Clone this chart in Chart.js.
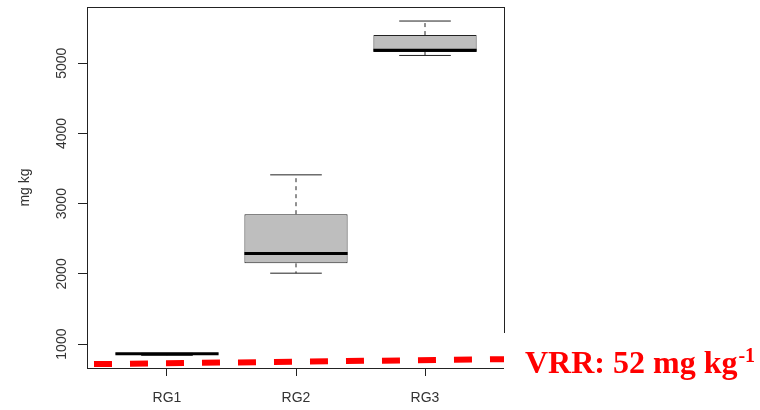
<!DOCTYPE html>
<html lang="en">
<head>
  <meta charset="UTF-8" />
  <title>mg kg por grupo RG</title>
  <script src="https://cdn.jsdelivr.net/npm/chart.js"></script>
  <style>
    html, body {
      margin: 0;
      padding: 0;
      background: #fff;
    }
    #chart-container {
      width: 760px;
      height: 410px;
    }
  </style>
</head>
<body>
  <div id="chart-container">
    <canvas id="boxChart"></canvas>
  </div>

  <script>
    // datos (mg kg)
    const grupos = ['RG1', 'RG2', 'RG3'];
    const minimo = [840, 2010, 5110];
    const q1 = [858, 2150, 5160];
    const mediana = [862, 2290, 5185];
    const q3 = [866, 2850, 5400];
    const maximo = [868, 3410, 5600];

    const yTicks = [1000, 2000, 3000, 4000, 5000];
    const yRango = [660, 5800];
    const xRango = [0.38, 3.62];

    // linea roja discontinua (valor en el extremo izquierdo y derecho)
    const vrrLinea = [714, 786];
    const vrrTexto = 'VRR: 52 mg kg';
    const vrrSup = '-1';

    const MEDIO_CAJA = 0.4;
    const MEDIO_TOPE = 0.2;
    const FUENTE = '"Liberation Sans", Arial, sans-serif';

    // arma segmentos separados por puntos nulos
    function segmentos(fn) {
      const pts = [];
      grupos.forEach((g, i) => {
        fn(i + 1, i).forEach(p => pts.push(p));
        pts.push({ x: i + 1, y: null });
      });
      return pts;
    }

    const cajas = grupos.map((g, i) => ({ x: i + 1, y: [q1[i], q3[i]] }));
    const medianas = segmentos((x, i) => [
      { x: x - MEDIO_CAJA, y: mediana[i] },
      { x: x + MEDIO_CAJA, y: mediana[i] }
    ]);
    const bigotes = segmentos((x, i) => [
      { x: x, y: q3[i] }, { x: x, y: maximo[i] }, { x: x, y: null },
      { x: x, y: q1[i] }, { x: x, y: minimo[i] }
    ]);
    const topes = segmentos((x, i) => [
      { x: x - MEDIO_TOPE, y: maximo[i] }, { x: x + MEDIO_TOPE, y: maximo[i] }, { x: x, y: null },
      { x: x - MEDIO_TOPE, y: minimo[i] }, { x: x + MEDIO_TOPE, y: minimo[i] }
    ]);

    const marcoYTextos = {
      id: 'marcoYTextos',
      afterDatasetsDraw(chart) {
        const { ctx, chartArea: a, scales: { y } } = chart;
        ctx.save();
        // marco del grafico
        ctx.strokeStyle = '#222';
        ctx.lineWidth = 1;
        ctx.strokeRect(a.left + 0.5, a.top + 0.5, a.right - a.left - 1, a.bottom - a.top);

        // etiquetas del eje y, giradas
        ctx.fillStyle = '#333';
        ctx.font = '14px ' + FUENTE;
        ctx.textAlign = 'center';
        ctx.textBaseline = 'alphabetic';
        y.ticks.forEach(t => {
          const py = y.getPixelForValue(t.value);
          ctx.save();
          ctx.translate(a.left - 21, py);
          ctx.rotate(-Math.PI / 2);
          ctx.fillText(String(t.value), 0, 0);
          ctx.restore();
        });

        // recuadro blanco y texto VRR
        ctx.fillStyle = '#fff';
        ctx.fillRect(a.right - 1, 333, chart.width - a.right + 1, chart.height - 333);
        ctx.fillStyle = '#FF0000';
        ctx.textAlign = 'left';
        ctx.font = 'bold 32px "Liberation Serif", "Times New Roman", serif';
        const x0 = a.right + 20;
        ctx.fillText(vrrTexto, x0, 373);
        const w = ctx.measureText(vrrTexto).width;
        ctx.font = 'bold 20px "Liberation Serif", "Times New Roman", serif';
        ctx.fillText(vrrSup, x0 + w + 1, 362);
        ctx.restore();
      }
    };

    const ctx = document.getElementById('boxChart').getContext('2d');

    const chart = new Chart(ctx, {
      type: 'bar',
      data: {
        datasets: [
          {
            type: 'line',
            label: 'VRR',
            data: [{ x: xRango[0], y: vrrLinea[0] }, { x: xRango[1], y: vrrLinea[1] }],
            borderColor: '#FF0000',
            borderWidth: 6,
            borderDash: [18, 18],
            borderDashOffset: 29,
            borderCapStyle: 'butt',
            pointRadius: 0,
            order: 0
          },
          {
            type: 'line',
            label: 'mediana',
            data: medianas,
            borderColor: '#000',
            borderWidth: 3,
            borderCapStyle: 'butt',
            pointRadius: 0,
            spanGaps: false,
            order: 1
          },
          {
            type: 'line',
            label: 'topes',
            data: topes,
            borderColor: '#222',
            borderWidth: 1,
            pointRadius: 0,
            spanGaps: false,
            order: 2
          },
          {
            type: 'line',
            label: 'bigotes',
            data: bigotes,
            borderColor: '#222',
            borderWidth: 1,
            borderDash: [4, 4],
            pointRadius: 0,
            spanGaps: false,
            order: 3
          },
          {
            type: 'bar',
            label: 'caja',
            data: cajas,
            backgroundColor: '#BEBEBE',
            borderColor: '#222',
            borderWidth: 1,
            borderSkipped: false,
            barPercentage: 0.8,
            categoryPercentage: 1,
            order: 4
          }
        ]
      },
      options: {
        responsive: true,
        maintainAspectRatio: false,
        animation: false,
        layout: {
          padding: { left: 0, top: 7, right: 255, bottom: 0 }
        },
        plugins: {
          legend: { display: false },
          tooltip: { enabled: false }
        },
        scales: {
          x: {
            type: 'linear',
            min: xRango[0],
            max: xRango[1],
            offset: false,
            afterBuildTicks: s => { s.ticks = grupos.map((g, i) => ({ value: i + 1 })); },
            afterFit: s => { s.height = 42; },
            border: { display: false },
            grid: {
              offset: false,
              drawOnChartArea: false,
              drawTicks: true,
              tickLength: 8,
              tickColor: '#222'
            },
            ticks: {
              autoSkip: false,
              maxRotation: 0,
              padding: 14,
              color: '#333',
              font: { family: FUENTE, size: 14 },
              callback: v => grupos[v - 1]
            }
          },
          y: {
            min: yRango[0],
            max: yRango[1],
            afterBuildTicks: s => { s.ticks = yTicks.map(v => ({ value: v })); },
            afterFit: s => { s.width = 87; },
            border: { display: false },
            grid: {
              drawOnChartArea: false,
              drawTicks: true,
              tickLength: 9,
              tickColor: '#222'
            },
            ticks: { display: false },
            title: {
              display: true,
              text: 'mg kg',
              color: '#333',
              font: { family: FUENTE, size: 14 },
              padding: { top: 17, bottom: 0 }
            }
          }
        }
      },
      plugins: [marcoYTextos]
    });
  </script>
</body>
</html>
